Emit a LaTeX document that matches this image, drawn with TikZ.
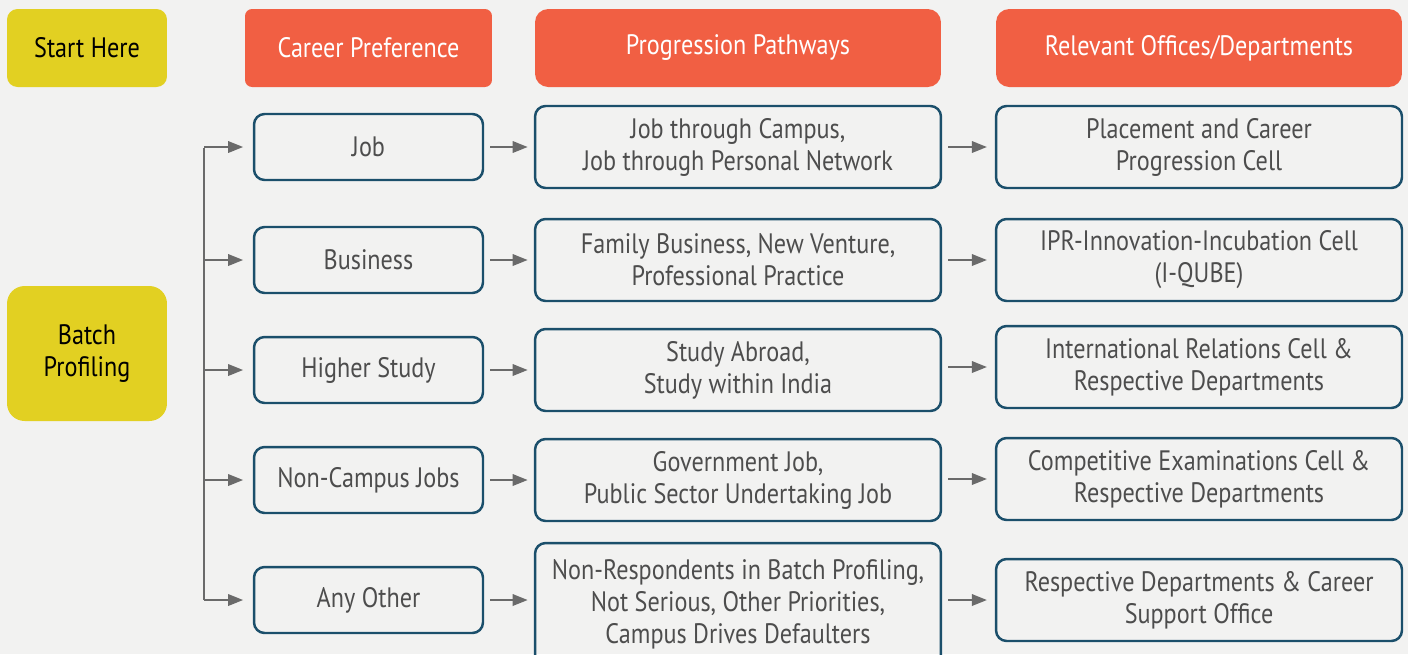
\documentclass[tikz,border=0pt]{standalone}
\usepackage{fontspec}
\setmainfont[FakeStretch=0.86]{PT Sans}
\usetikzlibrary{arrows.meta}
\definecolor{bgpaper}{HTML}{F2F2F1}
\definecolor{startyel}{HTML}{E2D022}
\definecolor{headorg}{HTML}{F15F43}
\definecolor{boxedge}{HTML}{1B4F6B}
\definecolor{boxtext}{HTML}{4D4D4D}
\definecolor{linkgray}{HTML}{6A6A6A}
\tikzset{every node/.style={font=\fontsize{16}{18.2}\selectfont, align=center, inner sep=2pt},
  startbox/.style={fill=startyel, text=black, minimum width=3.2cm},
  headbox/.style={fill=headorg, text=white, minimum height=1.56cm},
  prefbox/.style={draw=boxedge, line width=1.4pt, text=boxtext, rounded corners=6pt, minimum width=4.58cm, minimum height=1.32cm},
  pathbox/.style={draw=boxedge, line width=1.4pt, text=boxtext, rounded corners=6pt, minimum width=8.12cm, minimum height=1.64cm},
  link/.style={linkgray, line width=1.1pt, -{Triangle[length=8.5pt,width=6.5pt]}}}

\begin{document}
\begin{tikzpicture}[x=0.02cm, y=-0.02cm]
  \useasboundingbox (0,0) rectangle (1408,654);
  \clip (0,0) rectangle (1408,654);
  \fill[bgpaper] (0,0) rectangle (1408,654);
  \node[startbox, rounded corners=6pt, minimum height=1.56cm] (start) at ( 87, 48) {Start Here};
  \node[startbox, rounded corners=10pt, minimum height=2.70cm] (batch) at ( 87,353.5) {Batch\\Profiling};
  \node[headbox, rounded corners=4pt, minimum width=4.94cm] (hpref) at ( 368.5, 48) {Career Preference};
  \node[headbox, rounded corners=7.5pt, minimum width=8.12cm] (hpath) at ( 738, 48) {Progression Pathways};
  \node[headbox, rounded corners=7.5pt, minimum width=8.12cm] (hoff) at (1199, 48) {Relevant Offices/Departments};

  \node[prefbox] (job) at (368.5,147) {Job};
  \node[prefbox] (bus) at (368.5,260) {Business};
  \node[prefbox] (hst) at (368.5,370) {Higher Study};
  \node[prefbox] (ncj) at (368.5,480) {Non-Campus Jobs};
  \node[prefbox] (oth) at (368.5,600) {Any Other};

  \node[pathbox] (pjob) at (738,147) {Job through Campus,\\Job through Personal Network};
  \node[pathbox] (pbus) at (738,260) {Family Business, New Venture,\\Professional Practice};
  \node[pathbox] (phst) at (738,370) {Study Abroad,\\Study within India};
  \node[pathbox] (pncj) at (738,480) {Government Job,\\Public Sector Undertaking Job};
  \node[pathbox, minimum height=2.44cm] (poth) at (738,604) {Non-Respondents in Batch Profiling,\\Not Serious, Other Priorities,\\Campus Drives Defaulters};

  \node[pathbox] (ojob) at (1199,147) {Placement and Career\\Progression Cell};
  \node[pathbox] (obus) at (1199,260) {IPR-Innovation-Incubation Cell\\(I-QUBE)};
  \node[pathbox] (ohst) at (1199,367) {International Relations Cell \&\\Respective Departments};
  \node[pathbox] (oncj) at (1199,479) {Competitive Examinations Cell \&\\Respective Departments};
  \node[pathbox] (ooth) at (1199,600) {Respective Departments \& Career\\Support Office};

  \coordinate (trunk) at (204,148);
  \draw[linkgray, line width=1.1pt] (trunk) -- (trunk |- oth);
  \foreach \row in {job,bus,hst,ncj,oth}
    \draw[link] (trunk |- \row) -- ([xshift=-5.5pt]\row.west);
  \foreach \row in {job,bus,hst,ncj,oth}
    \draw[link] ([xshift=3.5pt]\row.east) -- ([xshift=-3.5pt]p\row.west |- \row);
  \foreach \row in {job,bus,hst,ncj,oth}
    \draw[link] ([xshift=3.5pt]p\row.east |- o\row) -- ([xshift=-4.5pt]o\row.west);
\end{tikzpicture}
\end{document}
